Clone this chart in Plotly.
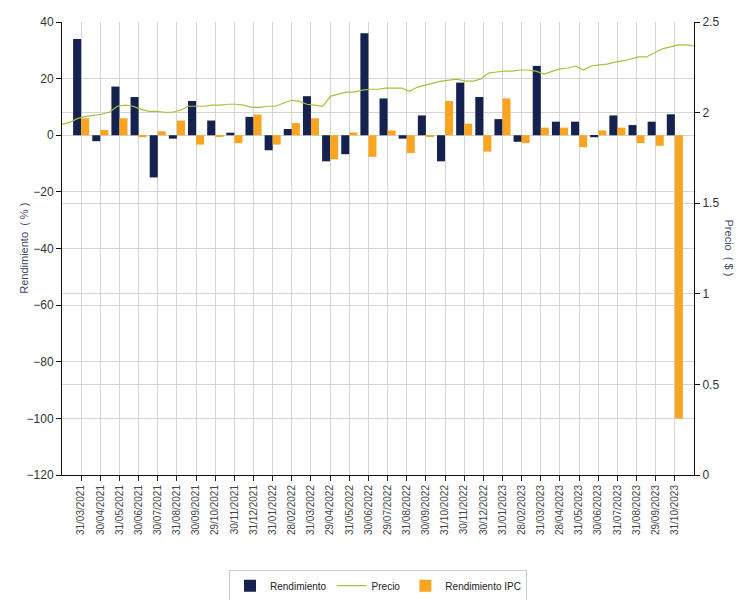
import plotly.graph_objects as go

fechas = ["31/03/2021", "30/04/2021", "31/05/2021", "30/06/2021", "30/07/2021", "31/08/2021",
          "30/09/2021", "29/10/2021", "30/11/2021", "31/12/2021", "31/01/2022", "28/02/2022",
          "31/03/2022", "29/04/2022", "31/05/2022", "30/06/2022", "29/07/2022", "31/08/2022",
          "30/09/2022", "31/10/2022", "30/11/2022", "30/12/2022", "31/01/2023", "28/02/2023",
          "31/03/2023", "28/04/2023", "31/05/2023", "30/06/2023", "31/07/2023", "31/08/2023",
          "29/09/2023", "31/10/2023"]

rendimiento = [34.0, -2.1, 17.2, 13.5, -14.9, -1.2, 12.1, 5.2, 0.9, 6.5, -5.3, 2.2,
               13.8, -9.2, -6.7, 36.0, 13.0, -1.2, 7.0, -9.2, 18.6, 13.5, 5.7, -2.3,
               24.5, 4.8, 4.8, -0.7, 7.0, 3.6, 4.8, 7.4]

rendimiento_ipc = [6.0, 1.9, 6.0, -0.7, 1.4, 5.2, -3.3, -0.5, -2.8, 7.3, -3.3, 4.3,
                   6.0, -8.5, 1.0, -7.6, 1.7, -6.3, -0.3, 12.1, 4.1, -5.8, 13.0, -2.8,
                   2.7, 2.7, -4.2, 1.7, 2.7, -2.8, -3.7, -100.0]

precio = [1.935, 1.946, 1.968, 1.979, 1.985, 1.991, 2.002, 2.035, 2.041, 2.035,
          2.018, 2.007, 2.007, 2.002, 2.002, 2.013, 2.035, 2.035, 2.035, 2.041,
          2.041, 2.046, 2.046, 2.041, 2.029, 2.029, 2.035, 2.035, 2.052, 2.068,
          2.063, 2.046, 2.041, 2.035, 2.091, 2.102, 2.113, 2.113, 2.124, 2.129,
          2.129, 2.135, 2.135, 2.135, 2.118, 2.141, 2.152, 2.163, 2.174, 2.179,
          2.185, 2.174, 2.174, 2.185, 2.218, 2.224, 2.229, 2.229, 2.235, 2.235,
          2.229, 2.213, 2.229, 2.241, 2.246, 2.257, 2.235, 2.257, 2.263, 2.268,
          2.279, 2.285, 2.296, 2.307, 2.307, 2.329, 2.352, 2.363, 2.374, 2.374,
          2.368]

left_ticks = [-120, -100, -80, -60, -40, -20, 0, 20, 40]
right_ticks = [0, 0.5, 1, 1.5, 2, 2.5]

NAVY = "#15224f"
ORANGE = "#faa522"
GREEN = "#a6c23a"
GRID = "#d4d4d4"
FONT = "Liberation Sans"

fig = go.Figure()
fig.add_trace(go.Bar(x=fechas, y=rendimiento, name="Rendimiento", marker_color=NAVY,
                     marker_line_width=0))
fig.add_trace(go.Scatter(x=list(range(len(precio))), y=precio, name="Precio", mode="lines",
                         line=dict(color=GREEN, width=1.2), xaxis="x2", yaxis="y2"))
fig.add_trace(go.Bar(x=fechas, y=rendimiento_ipc, name="Rendimiento IPC", marker_color=ORANGE,
                     marker_line_width=0))

fig.update_layout(
    width=736, height=592,
    margin=dict(l=54, r=50, t=14, b=125, autoexpand=False),
    paper_bgcolor="white", plot_bgcolor="white",
    barmode="group", bargap=0.16, bargroupgap=0,
    font=dict(family=FONT, color="#333333"),
    showlegend=True,
    legend=dict(orientation="h", x=0.5, xanchor="center", y=-0.21, yanchor="top",
                bordercolor="#cccccc", borderwidth=1, font=dict(size=10, color="#222222"),
                traceorder="normal", itemwidth=30, tracegroupgap=0),
    xaxis=dict(type="category", range=[-1, len(fechas)], showgrid=True, gridcolor=GRID,
               gridwidth=1, tickangle=-90, tickfont=dict(size=10, color="#444444"),
               ticks="outside", ticklen=5, tickcolor="#222222", showline=True,
               linecolor="#111111", linewidth=1, zeroline=False),
    xaxis2=dict(overlaying="x", range=[0, len(precio) - 1], visible=False),
    yaxis=dict(range=[-120, 40], tickvals=left_ticks, showgrid=True, gridcolor=GRID,
               zeroline=False, showline=True, linecolor="#111111", linewidth=1,
               ticks="outside", ticklen=5, tickcolor="#111111",
               tickfont=dict(size=12, color="#333333")),
    yaxis2=dict(overlaying="y", side="right", range=[0, 2.5], tickvals=right_ticks,
                showgrid=True, gridcolor=GRID, zeroline=False, showline=True,
                linecolor="#111111", linewidth=1, ticks="outside", ticklen=5,
                tickcolor="#111111", tickfont=dict(size=12, color="#333333")),
    annotations=[
        dict(text="Rendimiento  ( % )", xref="paper", yref="paper", x=-0.074, y=0.5,
             textangle=-90, showarrow=False, font=dict(size=11, color="#3d4a6a")),
        dict(text="Precio  ( $ )", xref="paper", yref="paper", x=1.0696, y=0.5,
             textangle=90, showarrow=False, font=dict(size=11, color="#3d4a6a")),
    ],
)

fig.write_html("out.html")
